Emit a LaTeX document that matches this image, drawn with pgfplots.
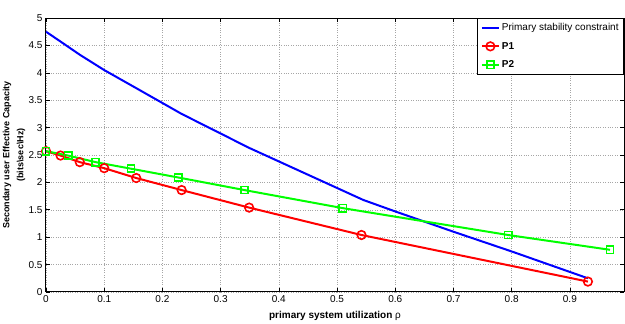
\documentclass[border=0pt]{standalone}
\usepackage{fontspec}
\setmainfont{Liberation Sans}
\usepackage{pgfplots}
\pgfplotsset{compat=1.18}
\definecolor{mblue}{rgb}{0,0,1}
\definecolor{mred}{rgb}{1,0,0}
\definecolor{mgreen}{rgb}{0,1,0}
\begin{document}
\begin{tikzpicture}
\begin{axis}[
  at={(0,0)}, anchor=south west,
  scale only axis,
  width=578pt, height=274pt,
  xmin=0, xmax=0.993, ymin=0, ymax=5,
  xtick={0,0.1,...,0.9},
  xticklabels={0,0.1,0.2,0.3,0.4,0.5,0.6,0.7,0.8,0.9},
  ytick={0,0.5,...,5},
  yticklabels={0,0.5,1,1.5,2,2.5,3,3.5,4,4.5,5},
  /pgf/number format/assume math mode=true,
  tick label style={font=\fontsize{10}{12}\selectfont},
  tick align=inside,
  major tick length=4pt,
  tick style={black, line width=0.6pt},
  axis line style={line width=1pt},
  grid=major,
  grid style={dotted, gray!70, line width=0.5pt},
  xlabel={\bfseries primary system utilization {\mdseries ρ}},
  xlabel style={at={(axis description cs:0.5,0)}, anchor=north, yshift=-16pt, font=\fontsize{10}{12}\selectfont},
  ylabel={\bfseries Secondary user Effective Capacity\\\bfseries (bits\textbackslash sec\textbackslash Hz)},
  ylabel style={at={(axis description cs:-0.03,0.5)}, anchor=south, align=center, font=\fontsize{9}{14}\selectfont},
  legend style={at={(rel axis cs:1,1)}, anchor=north east, draw=black, line width=0.8pt,
    font=\fontsize{10}{12}\selectfont, row sep=6pt, inner sep=3pt},
  legend cell align=left,
  legend image post style={line width=2pt},
]
\addplot[mblue, line width=2pt] coordinates {
 (0,4.75) (0.025,4.57) (0.058,4.33) (0.1,4.05) (0.155,3.72) (0.233,3.25) (0.349,2.63) (0.545,1.68) (0.6,1.47) (0.7,1.10) (0.8,0.74) (0.931,0.25)
};
\addlegendentry{Primary stability constraint}
\addplot[mred, line width=2pt, mark=o, mark size=4.3pt, mark options={line width=1.6pt}] coordinates {
 (0,2.57) (0.025,2.49) (0.058,2.37) (0.1,2.26) (0.155,2.08) (0.233,1.86) (0.349,1.54) (0.542,1.04) (0.931,0.19)
};
\addlegendentry{\textbf{P1}}
\addplot[mgreen, line width=2pt, mark=square, mark size=3.6pt, mark options={line width=1.6pt}] coordinates {
 (0,2.57) (0.038,2.49) (0.085,2.37) (0.146,2.25) (0.227,2.09) (0.341,1.86) (0.51,1.53) (0.794,1.04) (0.969,0.77)
};
\addlegendentry{\textbf{P2}}
\node[anchor=south west, inner sep=0pt, font=\fontsize{9}{11}\selectfont\bfseries] at (axis description cs:0,1) [yshift=5pt] {x 2*10\textsuperscript{−6}};
\end{axis}
\pgfresetboundingbox
\path[use as bounding box] (-46pt,-32pt) rectangle (579pt,292pt);
\end{tikzpicture}
\end{document}
